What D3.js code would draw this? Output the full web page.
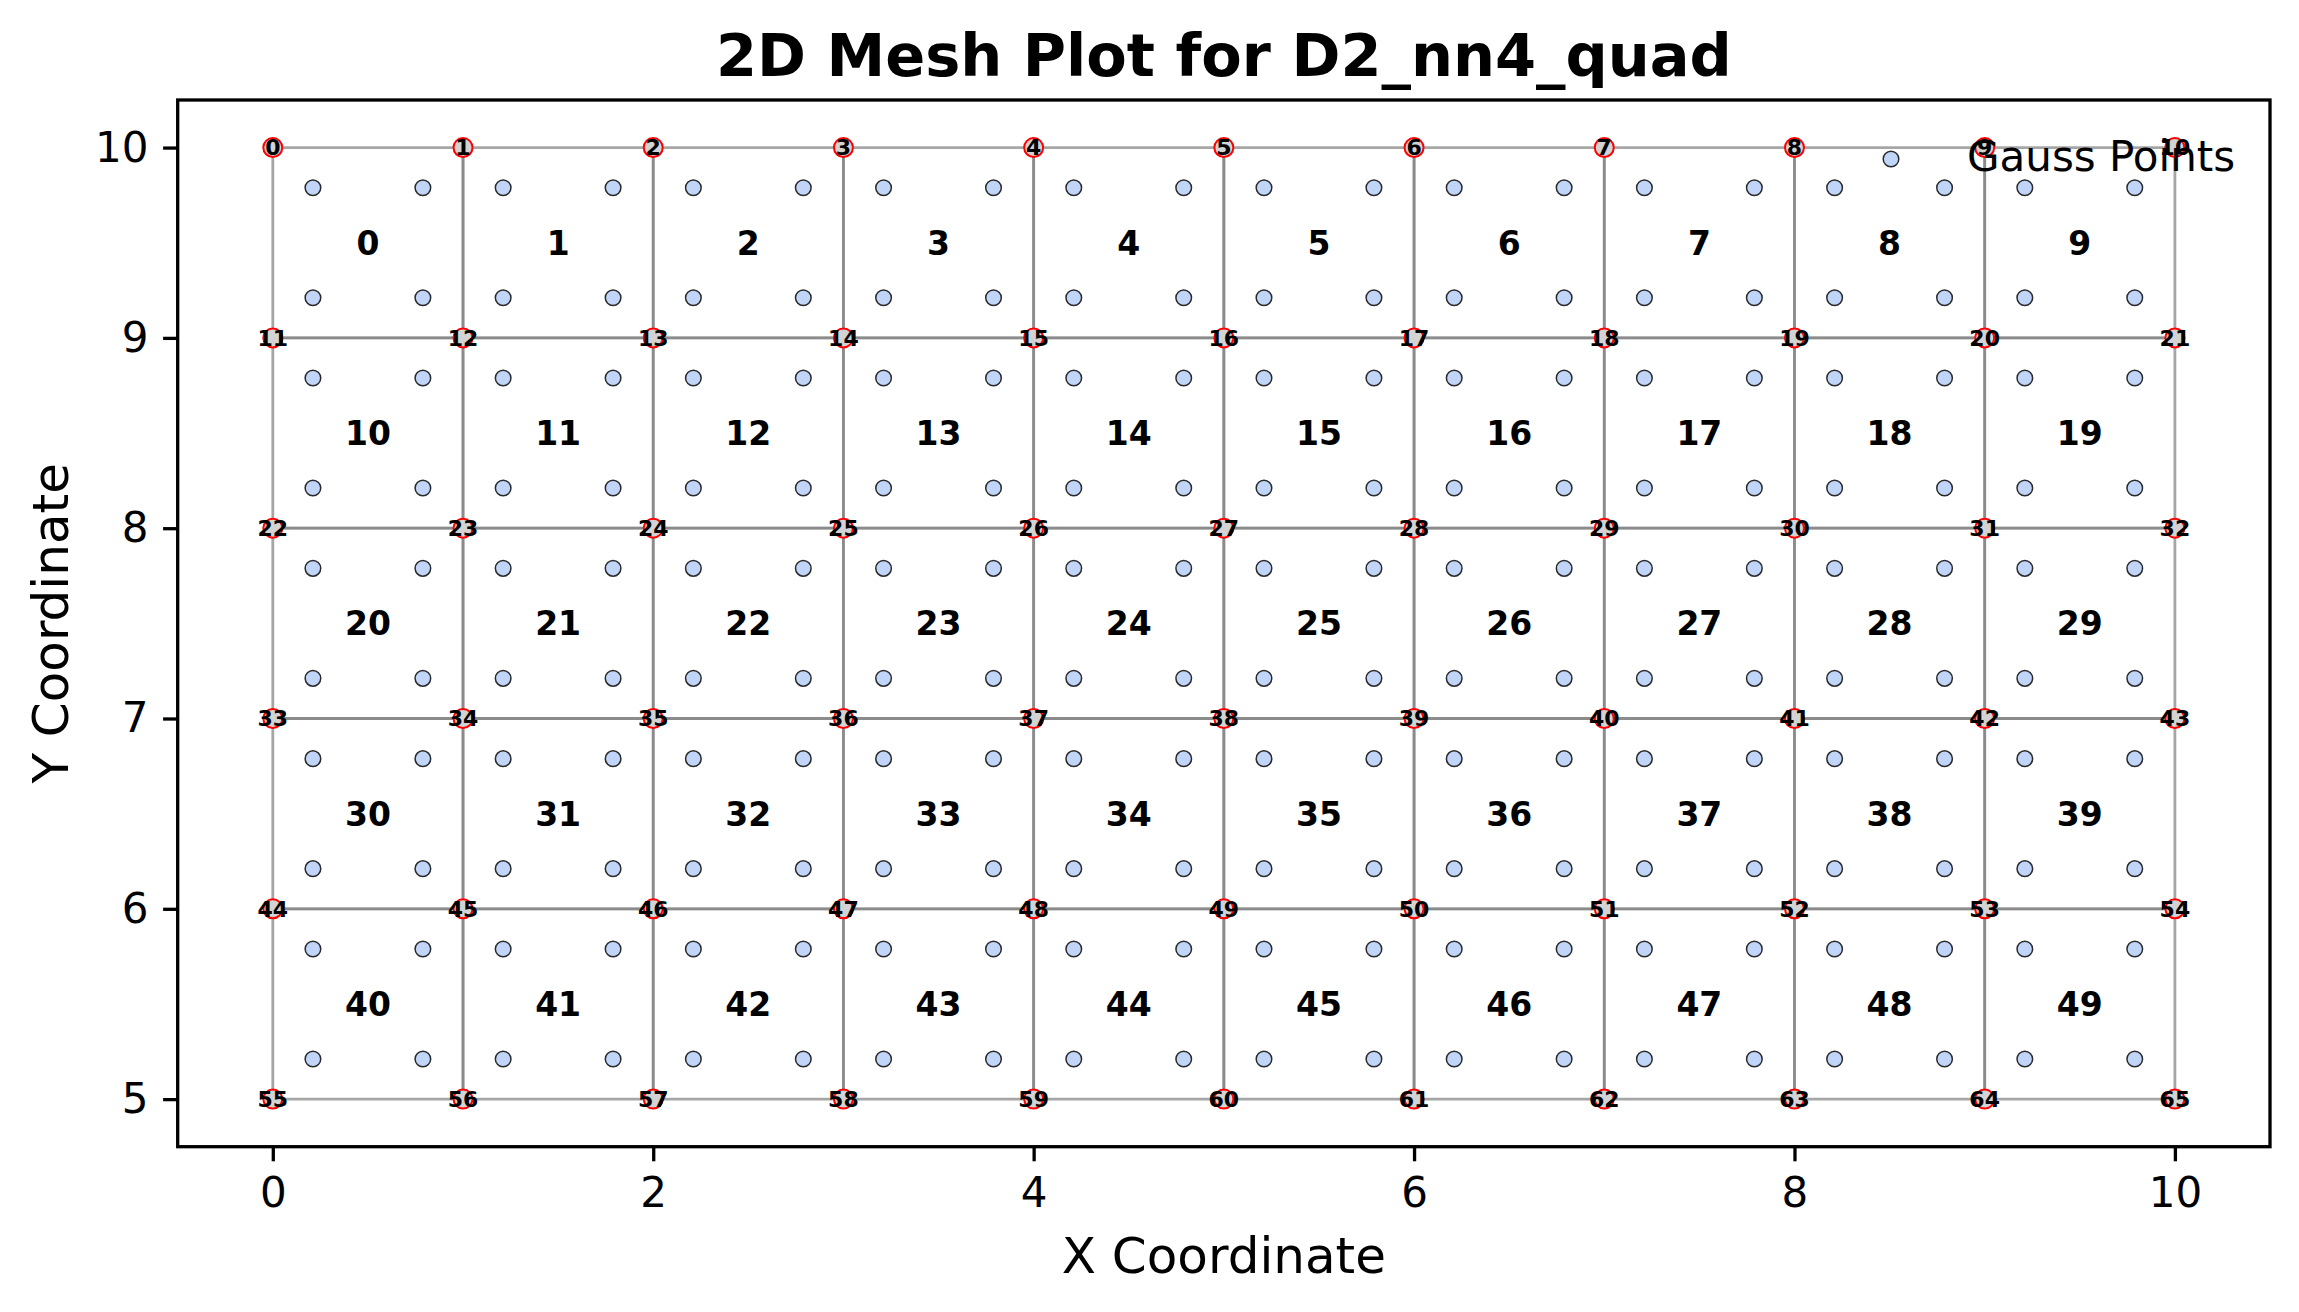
<!DOCTYPE html>
<html>
<head>
<meta charset="utf-8">
<script src="https://cdn.jsdelivr.net/npm/d3@7"></script>
<style>
  body { margin: 0; background: #fff; }
  svg { display: block; font-family: "DejaVu Sans", sans-serif; }
</style>
</head>
<body>
<div id="chart"></div>
<script>
// Mesh geometry
const xCoords = [0, 1, 2, 3, 4, 5, 6, 7, 8, 9, 10];
const yCoords = [10, 9, 8, 7, 6, 5];
// Gauss point positions inside one element, as fractions of its width/height
const gaussLocal = [0.211, 0.789];

const xTicks = [0, 2, 4, 6, 8, 10];
const yTicks = [5, 6, 7, 8, 9, 10];

const titleText = '2D Mesh Plot for D2_nn4_quad';
const xLabel = 'X Coordinate';
const yLabel = 'Y Coordinate';
const legendLabel = 'Gauss Points';

const width = 2299, height = 1312;
const plot = { left: 177.7, right: 2270, top: 100, bottom: 1146.7 };

const x = d3.scaleLinear().domain([-0.5, 10.5]).range([plot.left, plot.right]);
const y = d3.scaleLinear().domain([4.75, 10.25]).range([plot.bottom, plot.top]);

// Nodes, row by row from the top
const nodes = [];
yCoords.forEach(yy => xCoords.forEach(xx => nodes.push({ id: nodes.length, x: xx, y: yy })));

// Quad elements, connectivity from the node grid
const nx = xCoords.length;
const elements = [];
for (let r = 0; r < yCoords.length - 1; r++) {
  for (let c = 0; c < nx - 1; c++) {
    const n0 = r * nx + c;
    elements.push({ id: elements.length, nodes: [n0, n0 + 1, n0 + nx + 1, n0 + nx] });
  }
}

// Gauss points of each element
const gaussPoints = [];
elements.forEach(el => {
  const a = nodes[el.nodes[0]], b = nodes[el.nodes[2]];
  gaussLocal.forEach(gy => gaussLocal.forEach(gx => {
    gaussPoints.push({ x: a.x + (b.x - a.x) * gx, y: a.y + (b.y - a.y) * gy });
  }));
});

const svg = d3.select('#chart').append('svg')
  .attr('width', width)
  .attr('height', height);

svg.append('rect').attr('width', width).attr('height', height).attr('fill', '#fff');

// Element outlines (shared edges get drawn twice, so they look darker)
svg.append('g')
  .selectAll('path')
  .data(elements)
  .join('path')
  .attr('d', el => d3.line()(el.nodes.map(i => [x(nodes[i].x), y(nodes[i].y)])) + 'Z')
  .attr('fill', 'none')
  .attr('stroke', '#808080')
  .attr('stroke-opacity', 0.7)
  .attr('stroke-width', 2.8);

// Gauss points
svg.append('g')
  .selectAll('circle')
  .data(gaussPoints)
  .join('circle')
  .attr('cx', d => x(d.x))
  .attr('cy', d => y(d.y))
  .attr('r', 7.8)
  .attr('fill', '#c1d5f8')
  .attr('stroke', '#2a2a2a')
  .attr('stroke-width', 1.5);

// Node markers
svg.append('g')
  .selectAll('circle')
  .data(nodes)
  .join('circle')
  .attr('cx', d => x(d.x))
  .attr('cy', d => y(d.y))
  .attr('r', 9.5)
  .attr('fill', '#d3d3d3')
  .attr('stroke', '#ff0000')
  .attr('stroke-width', 2);

// Node numbers
svg.append('g')
  .selectAll('text')
  .data(nodes)
  .join('text')
  .attr('x', d => x(d.x))
  .attr('y', d => y(d.y))
  .attr('text-anchor', 'middle')
  .attr('dy', '0.36em')
  .attr('font-size', 22)
  .attr('font-weight', 'bold')
  .attr('fill', '#000')
  .text(d => d.id);

// Element numbers at element centres
svg.append('g')
  .selectAll('text')
  .data(elements)
  .join('text')
  .attr('x', el => x(d3.mean(el.nodes, i => nodes[i].x)))
  .attr('y', el => y(d3.mean(el.nodes, i => nodes[i].y)))
  .attr('text-anchor', 'middle')
  .attr('dy', '0.36em')
  .attr('font-size', 33)
  .attr('font-weight', 'bold')
  .attr('fill', '#000')
  .text(el => el.id);

// Axes
const xAxis = svg.append('g')
  .attr('transform', `translate(0,${plot.bottom})`)
  .call(d3.axisBottom(x).tickValues(xTicks).tickFormat(d3.format('d'))
    .tickSize(14.6).tickSizeOuter(0).tickPadding(16));

const yAxis = svg.append('g')
  .attr('transform', `translate(${plot.left},0)`)
  .call(d3.axisLeft(y).tickValues(yTicks).tickFormat(d3.format('d'))
    .tickSize(14.6).tickSizeOuter(0).tickPadding(14.6));

[xAxis, yAxis].forEach(ax => {
  ax.select('.domain').remove();
  ax.selectAll('line').attr('stroke', '#000').attr('stroke-width', 3.3);
  ax.selectAll('text')
    .attr('fill', '#000')
    .attr('font-size', 42)
    .attr('font-family', '"DejaVu Sans", sans-serif');
});

// Frame
svg.append('rect')
  .attr('x', plot.left)
  .attr('y', plot.top)
  .attr('width', plot.right - plot.left)
  .attr('height', plot.bottom - plot.top)
  .attr('fill', 'none')
  .attr('stroke', '#000')
  .attr('stroke-width', 3.3);

// Legend (no frame)
const legend = svg.append('g');
legend.append('circle')
  .attr('cx', 1891)
  .attr('cy', 159)
  .attr('r', 7.8)
  .attr('fill', '#c1d5f8')
  .attr('stroke', '#2a2a2a')
  .attr('stroke-width', 1.5);
legend.append('text')
  .attr('x', 1967)
  .attr('y', 171)
  .attr('font-size', 42)
  .attr('fill', '#000')
  .text(legendLabel);

// Title and axis labels
svg.append('text')
  .attr('x', (plot.left + plot.right) / 2)
  .attr('y', 76)
  .attr('text-anchor', 'middle')
  .attr('font-size', 59)
  .attr('font-weight', 'bold')
  .text(titleText);

svg.append('text')
  .attr('x', (plot.left + plot.right) / 2)
  .attr('y', 1273)
  .attr('text-anchor', 'middle')
  .attr('font-size', 50)
  .text(xLabel);

svg.append('text')
  .attr('transform', `translate(68,${(plot.top + plot.bottom) / 2}) rotate(-90)`)
  .attr('text-anchor', 'middle')
  .attr('font-size', 50)
  .text(yLabel);
</script>
</body>
</html>
